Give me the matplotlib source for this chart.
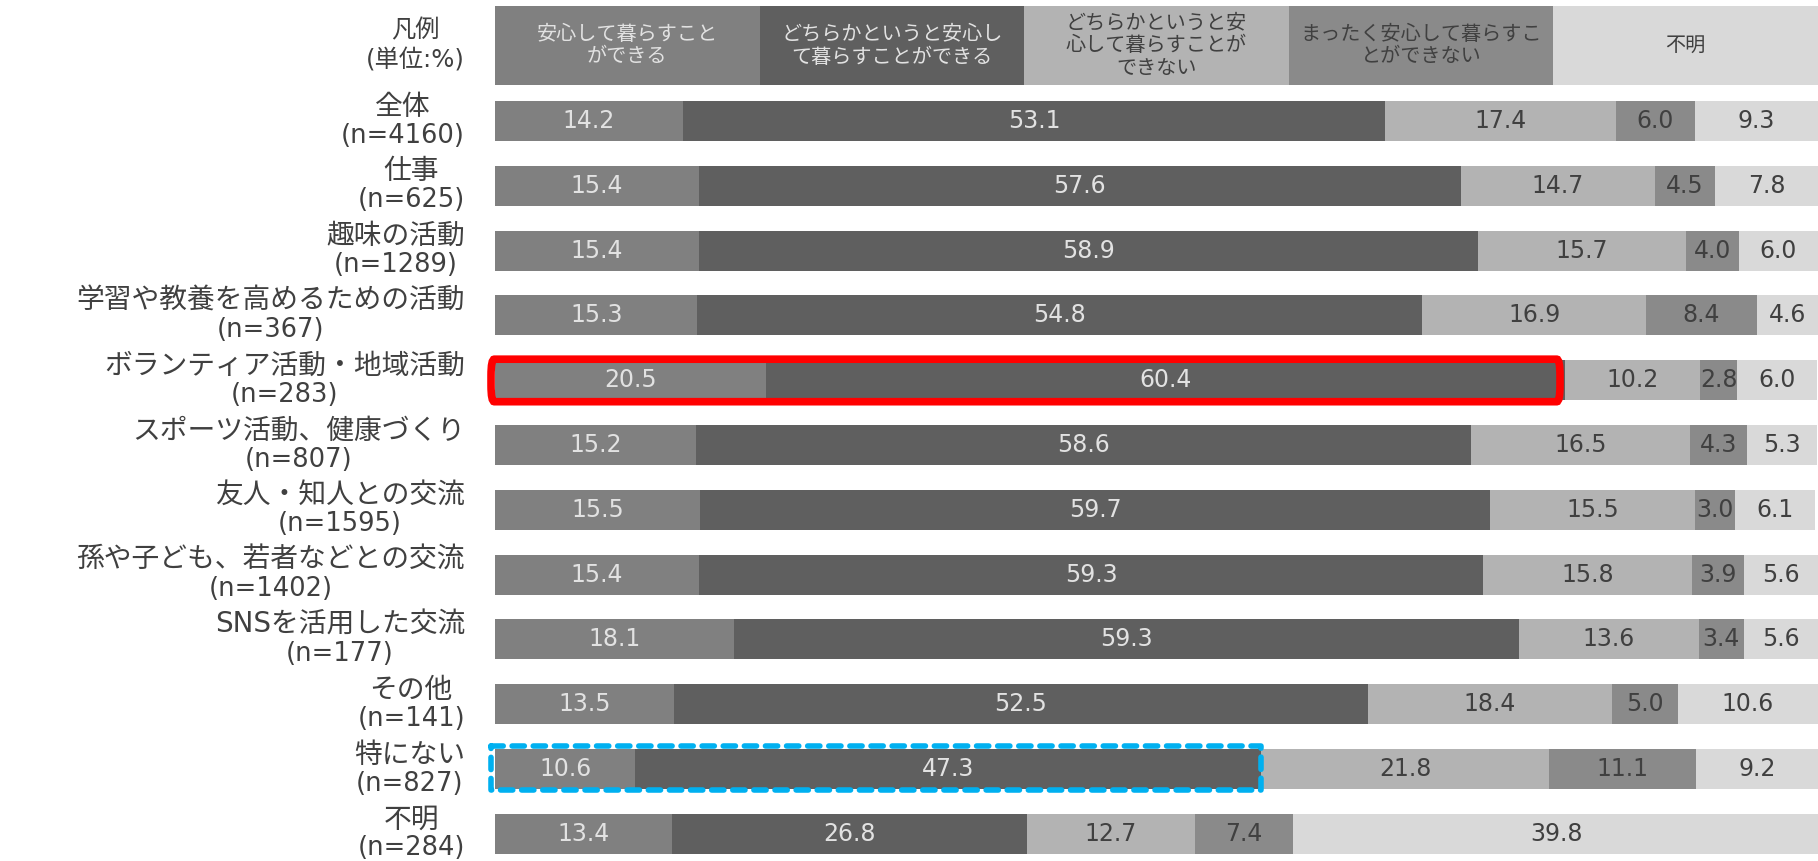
import matplotlib
matplotlib.use("Agg")
import matplotlib.pyplot as plt
from matplotlib.patches import Rectangle, FancyBboxPatch
from matplotlib.transforms import offset_copy

plt.rcParams['font.family'] = ['DejaVu Sans', 'Noto Sans CJK JP']

# Response categories (legend header)
responses = [
    "安心して暮らすこと\nができる",
    "どちらかというと安心し\nて暮らすことができる",
    "どちらかというと安\n心して暮らすことが\nできない",
    "まったく安心して暮らすこ\nとができない",
    "不明",
]

# Activity groups and sample sizes
groups = [
    "全体", "仕事", "趣味の活動", "学習や教養を高めるための活動",
    "ボランティア活動・地域活動", "スポーツ活動、健康づくり",
    "友人・知人との交流", "孫や子ども、若者などとの交流",
    "SNSを活用した交流", "その他", "特にない", "不明",
]
sizes = [4160, 625, 1289, 367, 283, 807, 1595, 1402, 177, 141, 827, 284]

# Share of each response (%), one list per response
can_live_safely = [14.2, 15.4, 15.4, 15.3, 20.5, 15.2, 15.5, 15.4, 18.1, 13.5, 10.6, 13.4]
rather_can = [53.1, 57.6, 58.9, 54.8, 60.4, 58.6, 59.7, 59.3, 59.3, 52.5, 47.3, 26.8]
rather_cannot = [17.4, 14.7, 15.7, 16.9, 10.2, 16.5, 15.5, 15.8, 13.6, 18.4, 21.8, 12.7]
cannot_at_all = [6.0, 4.5, 4.0, 8.4, 2.8, 4.3, 3.0, 3.9, 3.4, 5.0, 11.1, 7.4]
unknown = [9.3, 7.8, 6.0, 4.6, 6.0, 5.3, 6.1, 5.6, 5.6, 10.6, 9.2, 39.8]

series = [can_live_safely, rather_can, rather_cannot, cannot_at_all, unknown]
colors = ["#808080", "#5f5f5f", "#b3b3b3", "#8a8a8a", "#d9d9d9"]
text_colors = ["#e2e2e2", "#e2e2e2", "#404040", "#404040", "#404040"]

W, H = 1818, 861
fig = plt.figure(figsize=(W / 100, H / 100), dpi=100)
left_px = 495
ax = fig.add_axes([left_px / W, 0, 1 - left_px / W, 1])
row_px = 64.8
first_px = 121
ax.set_xlim(0, 100)
ax.set_ylim((H - first_px) / row_px, -first_px / row_px)
ax.axis("off")

bar_h = 40 / row_px
ys = list(range(len(groups)))

# Stacked bars with value labels
lefts = [0.0] * len(groups)
for vals, col, tcol in zip(series, colors, text_colors):
    ax.barh(ys, vals, left=lefts, height=bar_h, color=col, edgecolor="none")
    for y, v, l in zip(ys, vals, lefts):
        ax.text(l + v / 2, y, f"{v:.1f}", ha="center", va="center",
                color=tcol, fontsize=17)
    lefts = [l + v for l, v in zip(lefts, vals)]

# Legend header boxes
head_y = (45.5 - first_px) / row_px
head_h = 79 / row_px
box_w = 100 / len(responses)
for i, (lab, col, tcol) in enumerate(zip(responses, colors, text_colors)):
    ax.add_patch(Rectangle((i * box_w, head_y - head_h / 2), box_w, head_h,
                           facecolor=col, edgecolor="none", clip_on=False))
    ax.text(i * box_w + box_w / 2, head_y, lab, ha="center", va="center",
            color=tcol, fontsize=14.5, multialignment="center", linespacing=1.25)

# Row labels: group name above sample size, both lines centred in a right-aligned block
label_x = (465 - left_px) / 1323 * 100
ax.text(label_x, head_y, "凡例\n(単位:%)", ha="right", va="center",
        multialignment="center", fontsize=17.5, color="#404040", linespacing=1.3)

renderer = fig.canvas.get_renderer()
half_gap = 14.5 * 72 / 100  # points
for y, g, n in zip(ys, groups, sizes):
    top_tr = offset_copy(ax.transData, fig=fig, y=half_gap, units="points")
    bot_tr = offset_copy(ax.transData, fig=fig, y=-half_gap, units="points")
    t1 = ax.text(label_x, y, g, ha="center", va="center", fontsize=20,
                 color="#404040", transform=top_tr)
    t2 = ax.text(label_x, y, f"(n={n})", ha="center", va="center", fontsize=18.5,
                 color="#404040", transform=bot_tr)
    w1 = t1.get_window_extent(renderer).width
    w2 = t2.get_window_extent(renderer).width
    block_w = max(w1, w2)
    x_right_px = ax.transData.transform((label_x, y))[0]
    centre_data = ax.transData.inverted().transform((x_right_px - block_w / 2, 0))[0]
    t1.set_x(centre_data)
    t2.set_x(centre_data)

# Highlight: volunteer row, first two responses (red frame)
vi = groups.index("ボランティア活動・地域活動")
v_end = can_live_safely[vi] + rather_can[vi]
ax.add_patch(FancyBboxPatch((-0.3, vi - 21 / row_px), v_end - 0.4 + 0.3, 42.5 / row_px,
                            boxstyle="round,pad=0,rounding_size=0.25",
                            facecolor="none", edgecolor="#ff0000", linewidth=5.5,
                            clip_on=False, zorder=5))

# Highlight: "none" row, first two responses (blue dashed frame)
ni = groups.index("特にない")
n_end = can_live_safely[ni] + rather_can[ni]
ax.add_patch(Rectangle((-0.3, ni - 23 / row_px), n_end + 0.3, 44 / row_px,
                       facecolor="none", edgecolor="#00b0f0", linewidth=4,
                       linestyle=(0, (2.2, 1.6)), capstyle="round", joinstyle="round",
                       clip_on=False, zorder=5))

fig.savefig("out.png", dpi=100, facecolor="white")
